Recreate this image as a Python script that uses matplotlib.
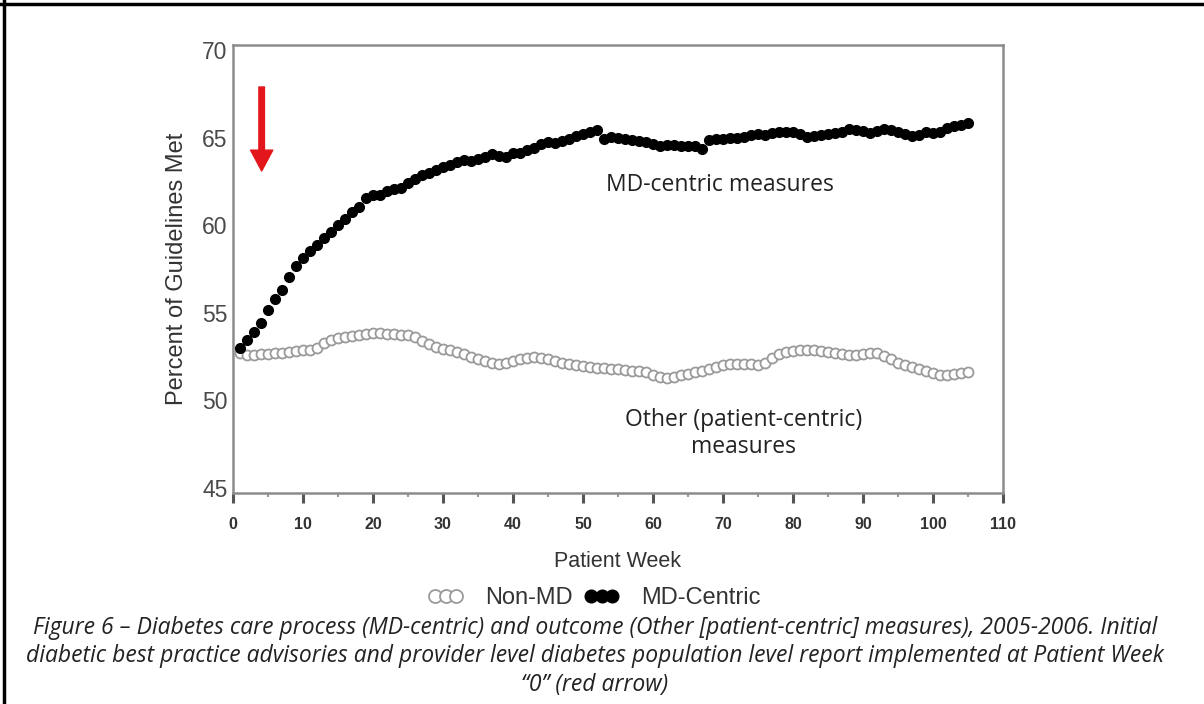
import matplotlib.pyplot as plt
from matplotlib.lines import Line2D

# weekly values
weeks = list(range(1, 106))

md_centric = [
    52.97, 53.44, 53.92, 54.40, 55.16, 55.77, 56.30, 57.06, 57.67, 58.13,
    58.55, 58.85, 59.25, 59.60, 60.00, 60.35, 60.75, 61.05, 61.55, 61.70,
    61.75, 61.95, 62.05, 62.10, 62.40, 62.65, 62.85, 63.00, 63.15, 63.30,
    63.45, 63.60, 63.70, 63.65, 63.80, 63.90, 64.05, 63.95, 63.90, 64.10,
    64.15, 64.30, 64.40, 64.65, 64.75, 64.70, 64.80, 64.90, 65.10, 65.20,
    65.30, 65.45, 64.95, 65.05, 65.00, 64.90, 64.85, 64.80, 64.75, 64.65,
    64.55, 64.60, 64.60, 64.55, 64.50, 64.50, 64.35, 64.85, 64.90, 64.95,
    65.00, 65.00, 65.05, 65.15, 65.20, 65.15, 65.25, 65.30, 65.35, 65.30,
    65.20, 65.05, 65.10, 65.15, 65.20, 65.25, 65.30, 65.50, 65.45, 65.40,
    65.25, 65.40, 65.50, 65.45, 65.30, 65.20, 65.10, 65.15, 65.30, 65.25,
    65.35, 65.55, 65.65, 65.75, 65.85,
]

non_md = [
    52.70, 52.60, 52.60, 52.65, 52.65, 52.70, 52.70, 52.75, 52.80, 52.85,
    52.90, 53.00, 53.25, 53.45, 53.55, 53.60, 53.70, 53.75, 53.80, 53.85,
    53.85, 53.80, 53.80, 53.75, 53.75, 53.60, 53.40, 53.20, 53.05, 52.95,
    52.85, 52.75, 52.65, 52.50, 52.35, 52.25, 52.15, 52.10, 52.15, 52.25,
    52.35, 52.40, 52.45, 52.40, 52.35, 52.25, 52.15, 52.10, 52.00, 51.95,
    51.90, 51.85, 51.85, 51.80, 51.80, 51.75, 51.70, 51.70, 51.60, 51.45,
    51.35, 51.30, 51.35, 51.45, 51.50, 51.60, 51.70, 51.80, 51.90, 52.00,
    52.05, 52.05, 52.10, 52.05, 52.00, 52.15, 52.40, 52.65, 52.75, 52.80,
    52.85, 52.90, 52.85, 52.80, 52.75, 52.70, 52.65, 52.60, 52.60, 52.65,
    52.70, 52.70, 52.55, 52.35, 52.15, 52.00, 51.90, 51.80, 51.65, 51.55,
    51.45, 51.45, 51.50, 51.55, 51.60,
]

x_ticks = list(range(0, 111, 10))
y_ticks = [45, 50, 55, 60, 65, 70]

caption = ("Figure 6 \u2013 Diabetes care process (MD-centric) and outcome (Other [patient-centric] measures), 2005-2006. Initial\n"
           "diabetic best practice advisories and provider level diabetes population level report implemented at Patient Week\n"
           "\u201c0\u201d (red arrow)")

fig = plt.figure(figsize=(12.04, 7.04), dpi=100)
ax = fig.add_axes([0.1935, 0.2997, 0.6395, 0.6364])

grey = "#8c8c8c"
dark = "#333333"

# the two series
nm, = ax.plot(weeks, non_md, linestyle="none", marker="o", markersize=7.2,
              markerfacecolor="white", markeredgecolor="#9a9a9a", markeredgewidth=1.3,
              label="Non-MD")
md, = ax.plot(weeks, md_centric, linestyle="none", marker="o", markersize=7.0,
              markerfacecolor="black", markeredgecolor="black", label="MD-Centric")

ax.set_xlim(0, 110)
ax.set_ylim(44.7, 70.3)
ax.set_xticks(x_ticks)
ax.set_xticks(range(5, 110, 10), minor=True)
ax.set_yticks(y_ticks)

for s in ax.spines.values():
    s.set_color(grey)
    s.set_linewidth(1.8)

ax.tick_params(axis="x", which="major", direction="out", length=7, width=2.2,
               color="#555555", pad=10, labelsize=11.5, labelcolor=dark)
ax.tick_params(axis="x", which="minor", direction="out", length=3, width=1.5, color="#999999")
ax.tick_params(axis="y", length=0, pad=4, labelsize=16.5, labelcolor="#4a4a4a")
for lab in ax.get_xticklabels():
    lab.set_fontweight("bold")
    lab.set_family("Liberation Sans")
for lab in ax.get_yticklabels():
    lab.set_family("Liberation Sans")

ax.set_xlabel("Patient Week", fontsize=15.5, color=dark, family="Liberation Sans", labelpad=14)
ax.set_ylabel("Percent of Guidelines Met", fontsize=17, color=dark, family="Liberation Sans", labelpad=10)

# red arrow at week 0
ax.annotate("", xy=(4.1, 63.1), xytext=(4.1, 67.9),
            arrowprops=dict(arrowstyle="simple,head_width=0.8,head_length=0.75,tail_width=0.2",
                            color="#e3161c", mutation_scale=20, shrinkA=0, shrinkB=0))

ax.text(69.6, 62.3, "MD-centric measures", fontsize=16.5, family="Open Sans",
        color="#222222", ha="center", va="center")
ax.text(72.9, 48.1, "Other (patient-centric)\nmeasures", fontsize=16.5, family="Open Sans",
        color="#222222", ha="center", va="center", linespacing=1.2)

fig.legend(handles=[nm, md], loc="center", bbox_to_anchor=(0.4935, 0.1506), ncol=2,
           numpoints=3, markerscale=1.3, frameon=False, handlelength=1.5, handletextpad=0.9,
           columnspacing=0.5, prop={"family": "Liberation Sans", "size": 17},
           labelcolor=dark)

fig.text(0.494, 0.068, caption, ha="center", va="center", fontsize=16.5,
         family="Open Sans", style="italic", color="#222222", linespacing=1.25)

# outer frame (top and left edges only)
fig.add_artist(Line2D([0, 1], [0.995, 0.995], color="black", lw=2.5, transform=fig.transFigure))
fig.add_artist(Line2D([0.003, 0.003], [0, 1], color="black", lw=2.5, transform=fig.transFigure))

fig.savefig("out.png", dpi=100)
